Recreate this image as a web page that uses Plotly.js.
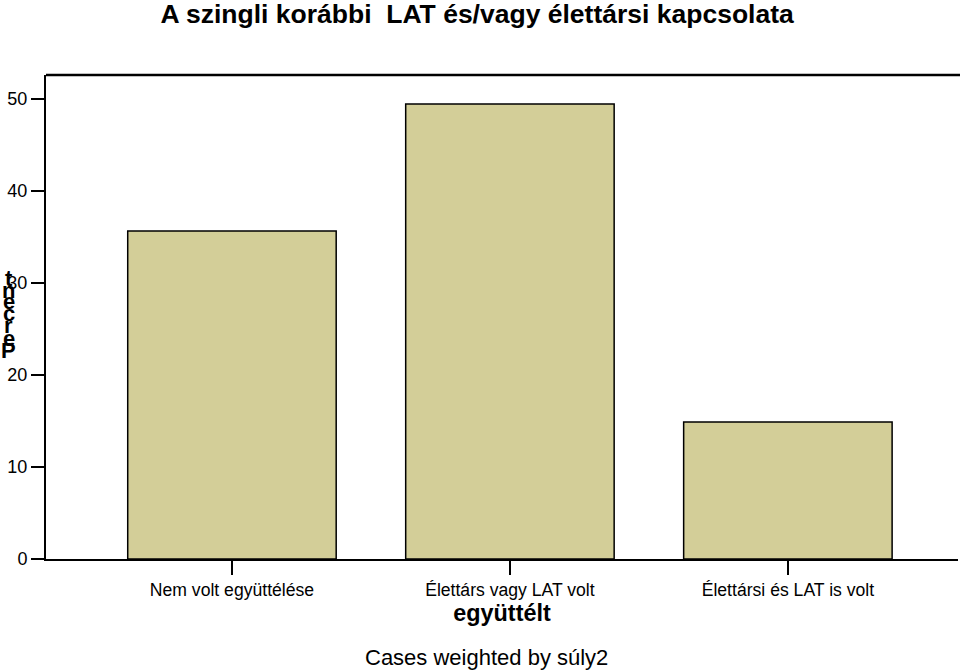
<!DOCTYPE html>
<html>
<head>
<meta charset="utf-8">
<script src="https://cdn.plot.ly/plotly-3.0.1.min.js"></script>
<style>body{margin:0;padding:0;background:#fff}#chart{width:960px;height:670px}</style>
</head>
<body>
<div id="chart"></div>
<script>
const categories = ["Nem volt együttélése", "Élettárs vagy LAT volt", "Élettársi és LAT is volt"];
const percents = [35.65, 49.46, 14.89];
const yTicks = [0, 10, 20, 30, 40, 50];
const titleText = "A szingli korábbi  LAT és/vagy élettársi kapcsolata";
const xTitle = "együttélt";
const caption = "Cases weighted by súly2";
const yTitleLetters = ["P", "e", "r", "c", "e", "n", "t"];

const font = "Liberation Sans, Arial, sans-serif";

const trace = {
  type: "bar",
  x: [0, 1, 2],
  y: percents,
  width: 0.75,
  marker: {color: "#d3ce98", line: {color: "#000", width: 1.5}},
  hoverinfo: "skip"
};

const annotations = [
  {text: caption, xref: "paper", yref: "paper", x: 0.4825, y: -0.174, yanchor: "top", showarrow: false,
   font: {family: font, size: 22, color: "#000"}}
];
// stacked (overlapping) letters of the y title, bottom to top
const yPos = [0.43, 0.456, 0.482, 0.508, 0.531, 0.555, 0.58];
yTitleLetters.forEach((ch, i) => {
  annotations.push({text: "<b>" + ch + "</b>", xref: "paper", yref: "paper", x: -0.041, y: yPos[i],
    xanchor: "center", yanchor: "middle", showarrow: false, font: {family: font, size: 22, color: "#000"}});
});

const layout = {
  width: 960, height: 670,
  margin: {l: 46, r: 2, t: 75, b: 111},
  paper_bgcolor: "#fff", plot_bgcolor: "#fff",
  showlegend: false,
  title: {text: "<b>" + titleText + "</b>", x: 0.497, xanchor: "center", y: 0.979, yanchor: "middle",
    font: {family: font, size: 26.5, color: "#000"}},
  xaxis: {
    range: [-0.669, 2.612], tickvals: [0, 1, 2], ticktext: categories,
    ticks: "outside", ticklen: 14, tickwidth: 1.5, tickcolor: "#000",
    showline: true, linecolor: "#000", linewidth: 2, mirror: false,
    showgrid: false, zeroline: false,
    tickfont: {family: font, size: 17.6, color: "#000"},
    title: {text: "<b>" + xTitle + "</b>", font: {family: font, size: 23.4, color: "#000"}, standoff: 5}
  },
  yaxis: {
    range: [0, 52.6], tickvals: yTicks,
    ticks: "outside", ticklen: 13, tickwidth: 1.5, tickcolor: "#000",
    showline: true, linecolor: "#000", linewidth: 2, mirror: false,
    showgrid: false, zeroline: false,
    tickfont: {family: font, size: 18, color: "#000"}
  },
  shapes: [
    {type: "line", xref: "paper", yref: "paper", x0: 0, x1: 1.01, y0: 1, y1: 1, line: {color: "#000", width: 2.5}}
  ],
  annotations: annotations
};

Plotly.newPlot("chart", [trace], layout, {displayModeBar: false, staticPlot: true});
</script>
</body>
</html>
